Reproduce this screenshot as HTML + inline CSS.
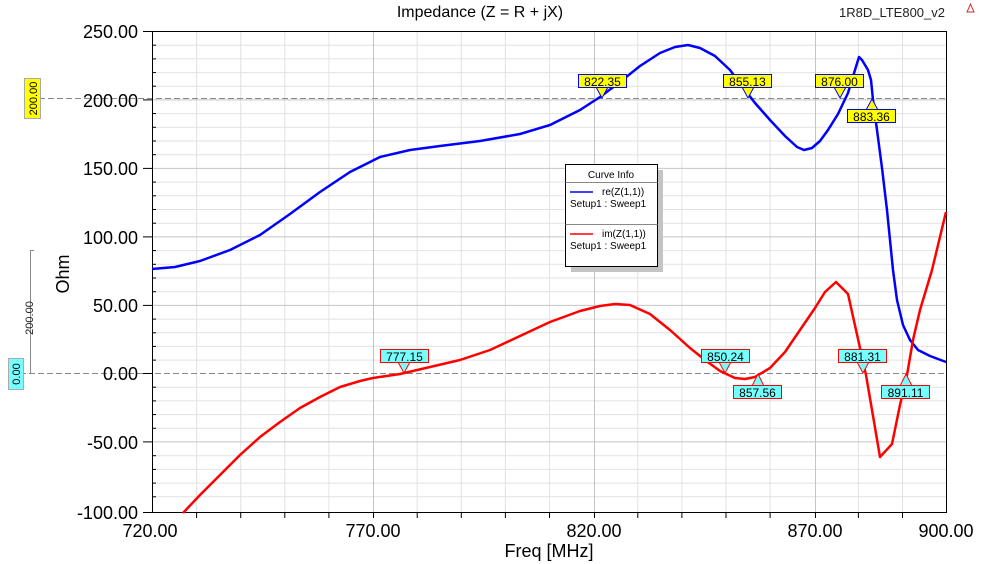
<!DOCTYPE html>
<html><head><meta charset="utf-8"><style>
html,body{margin:0;padding:0;background:#fff;}
svg{display:block;font-family:"Liberation Sans",Arial,sans-serif;}
</style></head><body>
<svg width="985" height="564" viewBox="0 0 985 564" xmlns="http://www.w3.org/2000/svg">
<rect width="985" height="564" fill="#fff"/>
<g id="grid" stroke="#e0e0e0" stroke-width="1">
<!-- generated below by script-free static lines -->
</g>
<g stroke="#e2e2e2" stroke-width="1">
<line x1="196.6" y1="31.5" x2="196.6" y2="512.5"/><line x1="240.7" y1="31.5" x2="240.7" y2="512.5"/><line x1="284.8" y1="31.5" x2="284.8" y2="512.5"/><line x1="328.9" y1="31.5" x2="328.9" y2="512.5"/>
<line x1="417.2" y1="31.5" x2="417.2" y2="512.5"/><line x1="461.3" y1="31.5" x2="461.3" y2="512.5"/><line x1="505.4" y1="31.5" x2="505.4" y2="512.5"/><line x1="549.5" y1="31.5" x2="549.5" y2="512.5"/>
<line x1="637.8" y1="31.5" x2="637.8" y2="512.5"/><line x1="681.9" y1="31.5" x2="681.9" y2="512.5"/><line x1="726" y1="31.5" x2="726" y2="512.5"/><line x1="770.1" y1="31.5" x2="770.1" y2="512.5"/>
<line x1="858.4" y1="31.5" x2="858.4" y2="512.5"/><line x1="902.5" y1="31.5" x2="902.5" y2="512.5"/>
<line x1="152.5" y1="45.2" x2="946.5" y2="45.2"/><line x1="152.5" y1="58.9" x2="946.5" y2="58.9"/><line x1="152.5" y1="72.6" x2="946.5" y2="72.6"/><line x1="152.5" y1="86.2" x2="946.5" y2="86.2"/>
<line x1="152.5" y1="113.6" x2="946.5" y2="113.6"/><line x1="152.5" y1="127.3" x2="946.5" y2="127.3"/><line x1="152.5" y1="141" x2="946.5" y2="141"/><line x1="152.5" y1="154.7" x2="946.5" y2="154.7"/>
<line x1="152.5" y1="182.1" x2="946.5" y2="182.1"/><line x1="152.5" y1="195.8" x2="946.5" y2="195.8"/><line x1="152.5" y1="209.5" x2="946.5" y2="209.5"/><line x1="152.5" y1="223.2" x2="946.5" y2="223.2"/>
<line x1="152.5" y1="250.6" x2="946.5" y2="250.6"/><line x1="152.5" y1="264.3" x2="946.5" y2="264.3"/><line x1="152.5" y1="278" x2="946.5" y2="278"/><line x1="152.5" y1="291.7" x2="946.5" y2="291.7"/>
<line x1="152.5" y1="319.1" x2="946.5" y2="319.1"/><line x1="152.5" y1="332.8" x2="946.5" y2="332.8"/><line x1="152.5" y1="346.4" x2="946.5" y2="346.4"/><line x1="152.5" y1="360.1" x2="946.5" y2="360.1"/>
<line x1="152.5" y1="387.2" x2="946.5" y2="387.2"/><line x1="152.5" y1="400.9" x2="946.5" y2="400.9"/><line x1="152.5" y1="414.6" x2="946.5" y2="414.6"/><line x1="152.5" y1="428.3" x2="946.5" y2="428.3"/>
<line x1="152.5" y1="455.7" x2="946.5" y2="455.7"/><line x1="152.5" y1="469.4" x2="946.5" y2="469.4"/><line x1="152.5" y1="483.1" x2="946.5" y2="483.1"/><line x1="152.5" y1="496.8" x2="946.5" y2="496.8"/>
</g>
<g stroke="#c4c4c4" stroke-width="1">
<line x1="373.5" y1="31.5" x2="373.5" y2="512.5"/><line x1="594.5" y1="31.5" x2="594.5" y2="512.5"/><line x1="815.5" y1="31.5" x2="815.5" y2="512.5"/>
<line x1="152.5" y1="99.9" x2="946.5" y2="99.9"/><line x1="152.5" y1="168.4" x2="946.5" y2="168.4"/><line x1="152.5" y1="236.9" x2="946.5" y2="236.9"/><line x1="152.5" y1="305.4" x2="946.5" y2="305.4"/><line x1="152.5" y1="441.9" x2="946.5" y2="441.9"/>
</g>
<!-- dashed reference lines -->
<g stroke="#888" stroke-width="1" stroke-dasharray="6,3">
<line x1="30" y1="98.5" x2="946" y2="98.5"/>
<line x1="20" y1="373.5" x2="946" y2="373.5"/>
</g>
<!-- axes -->
<rect x="152.5" y="31.5" width="794" height="481" fill="none" stroke="#000" stroke-width="1"/>
<g stroke="#000" stroke-width="1">
<line x1="143" y1="31.5" x2="152.5" y2="31.5"/><line x1="143" y1="99.9" x2="152.5" y2="99.9"/><line x1="143" y1="168.4" x2="152.5" y2="168.4"/><line x1="143" y1="236.9" x2="152.5" y2="236.9"/><line x1="143" y1="305.4" x2="152.5" y2="305.4"/><line x1="143" y1="373.5" x2="152.5" y2="373.5"/><line x1="143" y1="441.9" x2="152.5" y2="441.9"/><line x1="143" y1="512.5" x2="152.5" y2="512.5"/>
<line x1="196.6" y1="512.5" x2="196.6" y2="518"/><line x1="240.7" y1="512.5" x2="240.7" y2="518"/><line x1="284.8" y1="512.5" x2="284.8" y2="518"/><line x1="328.9" y1="512.5" x2="328.9" y2="518"/><line x1="373.5" y1="512.5" x2="373.5" y2="518"/>
<line x1="417.2" y1="512.5" x2="417.2" y2="518"/><line x1="461.3" y1="512.5" x2="461.3" y2="518"/><line x1="505.4" y1="512.5" x2="505.4" y2="518"/><line x1="549.5" y1="512.5" x2="549.5" y2="518"/><line x1="594.5" y1="512.5" x2="594.5" y2="518"/>
<line x1="637.8" y1="512.5" x2="637.8" y2="518"/><line x1="681.9" y1="512.5" x2="681.9" y2="518"/><line x1="726" y1="512.5" x2="726" y2="518"/><line x1="770.1" y1="512.5" x2="770.1" y2="518"/><line x1="815.5" y1="512.5" x2="815.5" y2="518"/><line x1="858.4" y1="512.5" x2="858.4" y2="518"/><line x1="902.5" y1="512.5" x2="902.5" y2="518"/>
</g>
<g stroke="#000" stroke-width="1">
<line x1="152.5" y1="45.2" x2="156" y2="45.2"/><line x1="152.5" y1="58.9" x2="156" y2="58.9"/><line x1="152.5" y1="72.6" x2="156" y2="72.6"/><line x1="152.5" y1="86.2" x2="156" y2="86.2"/>
<line x1="152.5" y1="113.6" x2="156" y2="113.6"/><line x1="152.5" y1="127.3" x2="156" y2="127.3"/><line x1="152.5" y1="141" x2="156" y2="141"/><line x1="152.5" y1="154.7" x2="156" y2="154.7"/>
<line x1="152.5" y1="182.1" x2="156" y2="182.1"/><line x1="152.5" y1="195.8" x2="156" y2="195.8"/><line x1="152.5" y1="209.5" x2="156" y2="209.5"/><line x1="152.5" y1="223.2" x2="156" y2="223.2"/>
<line x1="152.5" y1="250.6" x2="156" y2="250.6"/><line x1="152.5" y1="264.3" x2="156" y2="264.3"/><line x1="152.5" y1="278" x2="156" y2="278"/><line x1="152.5" y1="291.7" x2="156" y2="291.7"/>
<line x1="152.5" y1="319.1" x2="156" y2="319.1"/><line x1="152.5" y1="332.8" x2="156" y2="332.8"/><line x1="152.5" y1="346.4" x2="156" y2="346.4"/><line x1="152.5" y1="360.1" x2="156" y2="360.1"/>
<line x1="152.5" y1="387.2" x2="156" y2="387.2"/><line x1="152.5" y1="400.9" x2="156" y2="400.9"/><line x1="152.5" y1="414.6" x2="156" y2="414.6"/><line x1="152.5" y1="428.3" x2="156" y2="428.3"/>
<line x1="152.5" y1="455.7" x2="156" y2="455.7"/><line x1="152.5" y1="469.4" x2="156" y2="469.4"/><line x1="152.5" y1="483.1" x2="156" y2="483.1"/><line x1="152.5" y1="496.8" x2="156" y2="496.8"/>
</g>
<!-- y labels -->
<g font-size="18" text-anchor="end" fill="#000">
<text x="138" y="38">250.00</text><text x="138" y="107">200.00</text><text x="138" y="175">150.00</text><text x="138" y="244">100.00</text><text x="138" y="312">50.00</text><text x="138" y="380">0.00</text><text x="138" y="449">-50.00</text><text x="138" y="519">-100.00</text>
</g>
<g font-size="18" text-anchor="middle" fill="#000">
<text x="150" y="537">720.00</text><text x="373" y="537">770.00</text><text x="594" y="537">820.00</text><text x="815" y="537">870.00</text><text x="946" y="537">900.00</text>
<text x="549" y="557">Freq [MHz]</text>
<text transform="translate(69,274) rotate(-90)">Ohm</text>
</g>
<text x="480" y="17" font-size="16" text-anchor="middle">Impedance (Z = R + jX)</text>
<text x="945" y="17" font-size="13" text-anchor="end" fill="#222">1R8D_LTE800_v2</text>
<path d="M967,12 L970.5,4 L974,12 Z" fill="none" stroke="#c33" stroke-width="1"/>
<!-- secondary axis -->
<line x1="30.5" y1="250" x2="30.5" y2="373" stroke="#888"/>
<line x1="30.5" y1="250.5" x2="34" y2="250.5" stroke="#888"/>
<text transform="translate(33,318) rotate(-90)" font-size="11" text-anchor="middle" fill="#222">200.00</text>
<rect x="24.5" y="78.5" width="16" height="40" fill="#ff0" stroke="#aaa"/>
<text transform="translate(37,98.5) rotate(-90)" font-size="11" text-anchor="middle">200.00</text>
<rect x="8.5" y="358.5" width="15" height="31" fill="#7ff" stroke="#aaa"/>
<text transform="translate(20,374) rotate(-90)" font-size="11" text-anchor="middle">0.00</text>
<!-- curves -->
<polyline fill="none" stroke="#0000ff" stroke-width="2.5" stroke-linejoin="round" points="152,269 175,267 200,261 230,250 260,235 290,214 320,192 350,172 380,157 410,150 440,146 480,141 520,134 550,125 580,110 600,97 620,82 640,66 660,53 675,47 688,45 700,48 715,56 730,70 745,90 755,103 770,120 785,136 797,147 804,150 812,148 820,141 828,130 838,114 848,93 855,70 859,57 862,60 868,70 871,80 873,100 877,130 882,168 887,210 893,270 897,300 903,325 910,340 918,350 930,356 946,362"/>
<polyline fill="none" stroke="#ff0000" stroke-width="2.5" stroke-linejoin="round" points="183,513 200,495 220,475 240,455 260,437 280,422 300,408 320,397 340,387 360,381 373,378 400,374 430,367 460,360 490,350 520,336 550,322 580,311 600,306 615,304 630,305 650,314 670,330 690,348 705,360 720,371 735,378 745,379 755,377 770,368 785,352 800,330 815,308 825,292 836,282 848,294 852,312 860,348 866,375 872,410 880,457 892,444 900,405 907,375 913,340 920,310 932,270 946,212"/>
<!-- legend -->
<rect x="571" y="170" width="92" height="102" fill="#c4c4c4"/>
<rect x="565.5" y="164.5" width="92" height="102" fill="#fff" stroke="#000"/>
<line x1="565.5" y1="182.5" x2="657.5" y2="182.5" stroke="#888"/>
<line x1="565.5" y1="224.5" x2="657.5" y2="224.5" stroke="#888"/>
<g font-size="10" fill="#000">
<text x="611" y="178" text-anchor="middle">Curve Info</text>
<line x1="570" y1="192" x2="593" y2="192" stroke="#0000ff" stroke-width="1.5"/>
<text x="602" y="195">re(Z(1,1))</text>
<text x="570" y="207">Setup1 : Sweep1</text>
<line x1="570" y1="234" x2="593" y2="234" stroke="#ff0000" stroke-width="1.5"/>
<text x="602" y="237">im(Z(1,1))</text>
<text x="570" y="249">Setup1 : Sweep1</text>
</g>
<!-- yellow markers -->
<g font-size="12" text-anchor="middle" fill="#000">
<path d="M596,87 L602,98 L608,87 Z" fill="#ff0" stroke="#00f"/><rect x="578.5" y="74.5" width="48" height="13" fill="#ff0" stroke="#00f"/><text x="602.5" y="86">822.35</text>
<path d="M742,87 L748,98 L754,87 Z" fill="#ff0" stroke="#00f"/><rect x="723.5" y="74.5" width="48" height="13" fill="#ff0" stroke="#00f"/><text x="747.5" y="86">855.13</text>
<path d="M834,87 L840,98 L846,87 Z" fill="#ff0" stroke="#00f"/><rect x="815.5" y="74.5" width="48" height="13" fill="#ff0" stroke="#00f"/><text x="839.5" y="86">876.00</text>
<path d="M866,110 L872,99 L878,110 Z" fill="#ff0" stroke="#00f"/><rect x="847.5" y="109.5" width="48" height="13" fill="#ff0" stroke="#00f"/><text x="871.5" y="121">883.36</text>
</g>
<!-- cyan markers -->
<g font-size="12" text-anchor="middle" fill="#000">
<path d="M398,362 L404,373 L410,362 Z" fill="#7ff" stroke="#f00"/><rect x="380.5" y="349.5" width="48" height="13" fill="#7ff" stroke="#f00"/><text x="404.5" y="361">777.15</text>
<path d="M719,362 L725,373 L731,362 Z" fill="#7ff" stroke="#f00"/><rect x="701.5" y="349.5" width="48" height="13" fill="#7ff" stroke="#f00"/><text x="725.5" y="361">850.24</text>
<path d="M752,386 L758,374 L764,386 Z" fill="#7ff" stroke="#f00"/><rect x="733.5" y="385.5" width="48" height="13" fill="#7ff" stroke="#f00"/><text x="757.5" y="397">857.56</text>
<path d="M857,362 L863,373 L869,362 Z" fill="#7ff" stroke="#f00"/><rect x="838.5" y="349.5" width="48" height="13" fill="#7ff" stroke="#f00"/><text x="862.5" y="361">881.31</text>
<path d="M900,386 L906,374 L912,386 Z" fill="#7ff" stroke="#f00"/><rect x="881.5" y="385.5" width="48" height="13" fill="#7ff" stroke="#f00"/><text x="905.5" y="397">891.11</text>
</g>
</svg>
</body></html>
